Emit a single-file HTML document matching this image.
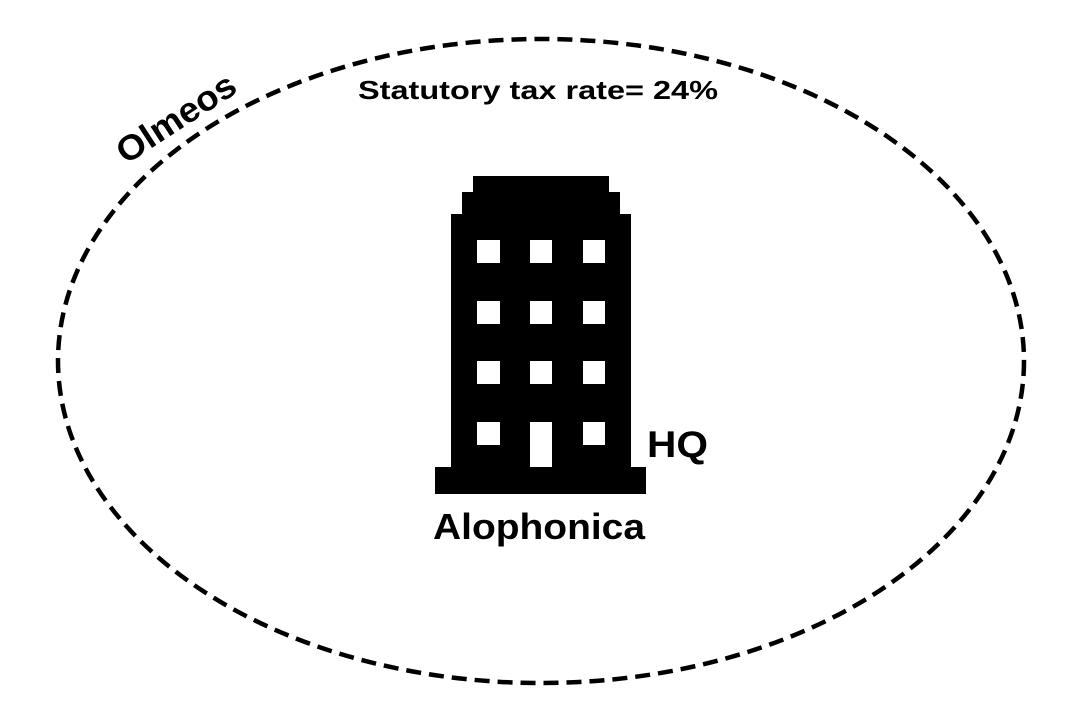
<!DOCTYPE html>
<html><head><style>
body{margin:0;background:#fff;}
svg text{font-family:"Liberation Sans",sans-serif;font-weight:bold;fill:#000;}
</style></head><body>
<svg width="1087" height="720" viewBox="0 0 1087 720">
<ellipse cx="541" cy="361" rx="483" ry="322" fill="none" stroke="#000" stroke-width="4.5" stroke-dasharray="15 8"/>
<text x="176" y="130" font-size="35" text-anchor="middle" textLength="135" lengthAdjust="spacingAndGlyphs" transform="rotate(-33 176 118)">Olmeos</text>
<text x="538" y="99" font-size="26" text-anchor="middle" textLength="360" lengthAdjust="spacingAndGlyphs">Statutory tax rate= 24%</text>
<rect x="473" y="176" width="136" height="20" fill="#000"/>
<rect x="462" y="192" width="158" height="25" fill="#000"/>
<rect x="451" y="214" width="180" height="260" fill="#000"/>
<rect x="435" y="467" width="211" height="27" fill="#000"/>
<g fill="#fff">
<rect x="477" y="240" width="23" height="23"/><rect x="530" y="240" width="22" height="23"/><rect x="583" y="240" width="22" height="23"/>
<rect x="477" y="301" width="23" height="23"/><rect x="530" y="301" width="22" height="23"/><rect x="583" y="301" width="22" height="23"/>
<rect x="477" y="361" width="23" height="23"/><rect x="530" y="361" width="22" height="23"/><rect x="583" y="361" width="22" height="23"/>
<rect x="477" y="422" width="23" height="23"/><rect x="530" y="422" width="22" height="45"/><rect x="583" y="422" width="22" height="23"/>
</g>
<text x="647" y="457" font-size="37" textLength="61" lengthAdjust="spacingAndGlyphs">HQ</text>
<text x="539" y="539" font-size="36" text-anchor="middle" textLength="212" lengthAdjust="spacingAndGlyphs">Alophonica</text>
</svg>
</body></html>
